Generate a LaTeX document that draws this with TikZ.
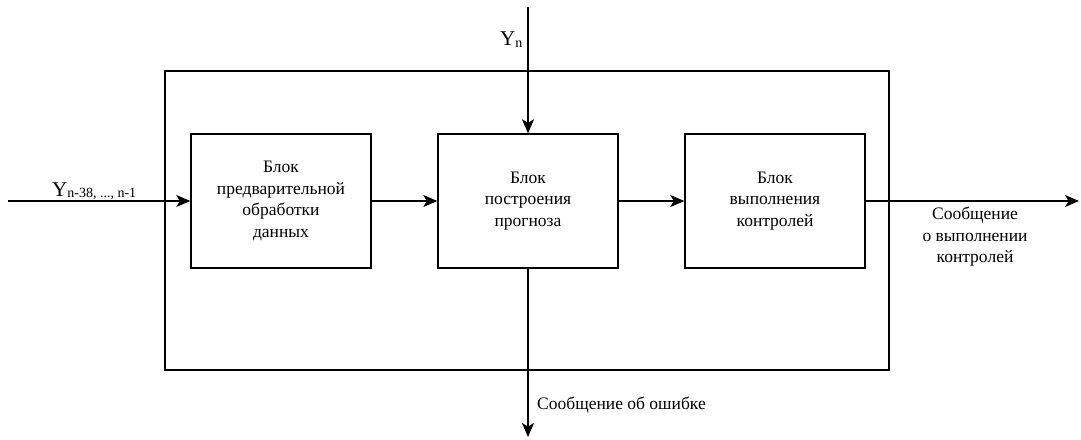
\documentclass[tikz,border=0pt]{standalone}
\usepackage{fontspec}
\setmainfont{Liberation Serif}
\usetikzlibrary{arrows.meta}
\begin{document}
\begin{tikzpicture}[x=1pt,y=-1pt,
  txt/.style={font=\fontsize{17.5}{21.5}\selectfont},
  blockbox/.style={draw,line width=1.4pt,minimum width=180pt,minimum height=134pt,
    align=center,txt,inner sep=0pt},
  frame/.style={draw,line width=1.4pt,minimum width=724pt,minimum height=299pt,inner sep=0pt},
  arr/.style={line width=1.4pt,-{Stealth[length=14pt,width=12pt,inset=3.5pt]}},
  bigY/.style={font=\fontsize{21}{24}\selectfont},
]
\useasboundingbox (0,0) rectangle (1081,439);

% enclosing frame and the three processing blocks
\node[frame] (outer) at (527,220.5) {};
\node[blockbox] (b1) at (281,201) {Блок\\предварительной\\обработки\\данных};
\node[blockbox] (b2) at (528,201) {Блок\\построения\\прогноза};
\node[blockbox] (b3) at (775,201) {Блок\\выполнения\\контролей};

% free ends of the external connectors
\coordinate (inL) at (8,201);
\coordinate (inT) at (528,7);
\coordinate (outR) at (1079,201);
\coordinate (outB) at (528,437);

\draw[arr] (inL) -- (b1.west);
\draw[arr] (b1.east) -- (b2.west);
\draw[arr] (b2.east) -- (b3.west);
\draw[arr] (inT) -- (b2.north);
\draw[arr] (b3.east) -- (outR);
\draw[arr] (b2.south) -- (outB);

% labels
\node[bigY,anchor=base west,inner sep=0pt] (lblT) at (500,45)
  {Y{\fontsize{14}{14}\selectfont\raisebox{-2pt}{n}}};
\node[bigY,anchor=base west,inner sep=0pt] (lblL) at (52,196)
  {Y{\fontsize{14}{14}\selectfont\raisebox{-1pt}{n-38, ..., n-1}}};
\node[txt,align=center,inner sep=0pt] (lblR) at (975,237)
  {Сообщение\\о выполнении\\контролей};
\node[txt,anchor=base west,inner sep=0pt] (lblB) at (537,409)
  {Сообщение об ошибке};
\end{tikzpicture}
\end{document}
